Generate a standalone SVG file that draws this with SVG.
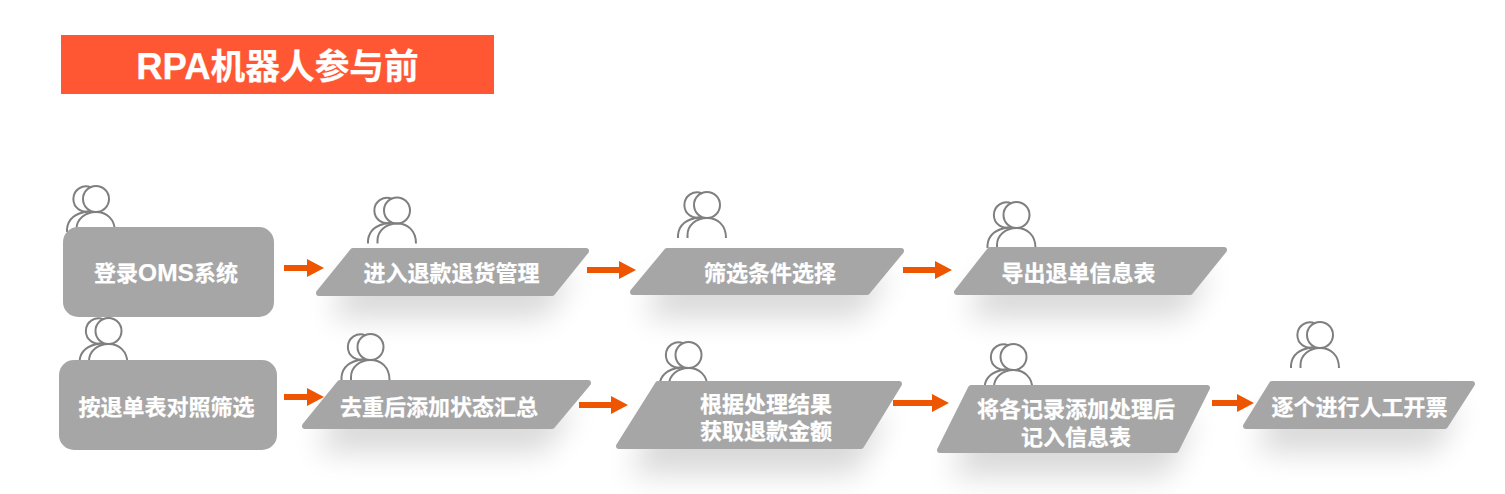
<svg xmlns="http://www.w3.org/2000/svg" width="1505" height="494" viewBox="0 0 1505 494">
<style>
text{font-family:"Liberation Sans","Noto Sans CJK SC",sans-serif;font-weight:700;fill:#fff;stroke:#fff;stroke-width:.25;text-anchor:middle}
.t{font-size:22px}
.lat{font-size:24.500px}
.box{fill:#a6a6a6}
.para{fill:#a6a6a6;stroke:#a6a6a6;stroke-width:6;stroke-linejoin:round}
.sh{fill:#000;opacity:.15;filter:url(#b)}
.ic{fill:none;stroke:#7f7f7f;stroke-width:2}
.ar{fill:#ee5500}
</style>
<defs>
<filter id="b" x="-30%" y="-120%" width="160%" height="340%"><feGaussianBlur stdDeviation="15"/></filter>
<g id="person" class="ic">
<circle cx="0" cy="0" r="13"/>
<path d="M-5-11.700A12.700 12.700 0 1 0-5 11.700"/>
<path d="M-19.500 33V30C-19.500 20-10.500 13 0 13S19 20 19 33"/>
<path d="M-29 33V30C-28 20-20 14-8 12.500"/>
</g>
</defs>
<g id="title"><rect x="61" y="35" width="433" height="59" fill="#ff5733"/><text x="277.500" y="78.500" style="font-size:34.700px"><tspan style="font-size:36.500px">RPA</tspan>机器人参与前</text></g>
<g id="shadows">
<path class="sh" d="M350 272H575L545 318H330Z"/>
<path class="sh" d="M664 272H890L860 318H645Z"/>
<path class="sh" d="M987 272H1212L1182 318H968Z"/>
<path class="sh" d="M338 405H576L545 452H317Z"/>
<path class="sh" d="M655 415H888L855 474H630Z"/>
<path class="sh" d="M975 418H1195L1168 476H951Z"/>
<path class="sh" d="M1272 405H1460L1436 452H1257Z"/>
</g>
<g id="n1"><use href="#person" x="96" y="199"/><rect class="box" x="63" y="227" width="211" height="90" rx="15"/><text class="t" x="166" y="281">登录<tspan class="lat">OMS</tspan>系统</text></g>
<g id="n2"><use href="#person" x="397" y="210.500"/><path class="para" d="M353 251H586L552 293H319Z"/><text class="t" x="451.500" y="281">进入退款退货管理</text></g>
<g id="n3"><use href="#person" x="707" y="205"/><path class="para" d="M667 251H901L867 292H633Z"/><text class="t" x="770" y="281">筛选条件选择</text></g>
<g id="n4"><use href="#person" x="1016.500" y="215"/><path class="para" d="M990 250H1224L1190 292H957Z"/><text class="t" x="1078.500" y="281">导出退单信息表</text></g>
<g id="n5"><use href="#person" x="108.500" y="331"/><rect class="box" x="59" y="360" width="218" height="90" rx="15"/><text class="t" x="166.500" y="415">按退单表对照筛选</text></g>
<g id="n6"><use href="#person" x="370.500" y="347"/><path class="para" d="M340 383H588L552 426H305Z"/><text class="t" x="439" y="415">去重后添加状态汇总</text></g>
<g id="n7"><use href="#person" x="688.500" y="355"/><path class="para" d="M658 384H899L861 446H619Z"/><text class="t" x="766" y="412">根据处理结果</text><text class="t" x="766" y="439">获取退款金额</text></g>
<g id="n8"><use href="#person" x="1013.500" y="357"/><path class="para" d="M971 388H1207L1176 450H940Z"/><text class="t" x="1076" y="417">将各记录添加处理后</text><text class="t" x="1076" y="444.500">记入信息表</text></g>
<g id="n9"><use href="#person" x="1320" y="335"/><path class="para" d="M1272 384H1472L1445 426H1246Z"/><text class="t" x="1359.500" y="415">逐个进行人工开票</text></g>
<g id="connectors" class="ar">
<path d="M284 265H307V259L324 268L307 277V271H284Z"/>
<path d="M587 267H619V261L636 270L619 279V273H587Z"/>
<path d="M903 267H935V261L952 270L935 279V273H903Z"/>
<path d="M284 394H307V388L324 397L307 406V400H284Z"/>
<path d="M579 402H611V396L628 405L611 414V408H579Z"/>
<path d="M893 400H932V394L949 403L932 412V406H893Z"/>
<path d="M1212 400H1237V394L1254 403L1237 412V406H1212Z"/>
</g>
</svg>
